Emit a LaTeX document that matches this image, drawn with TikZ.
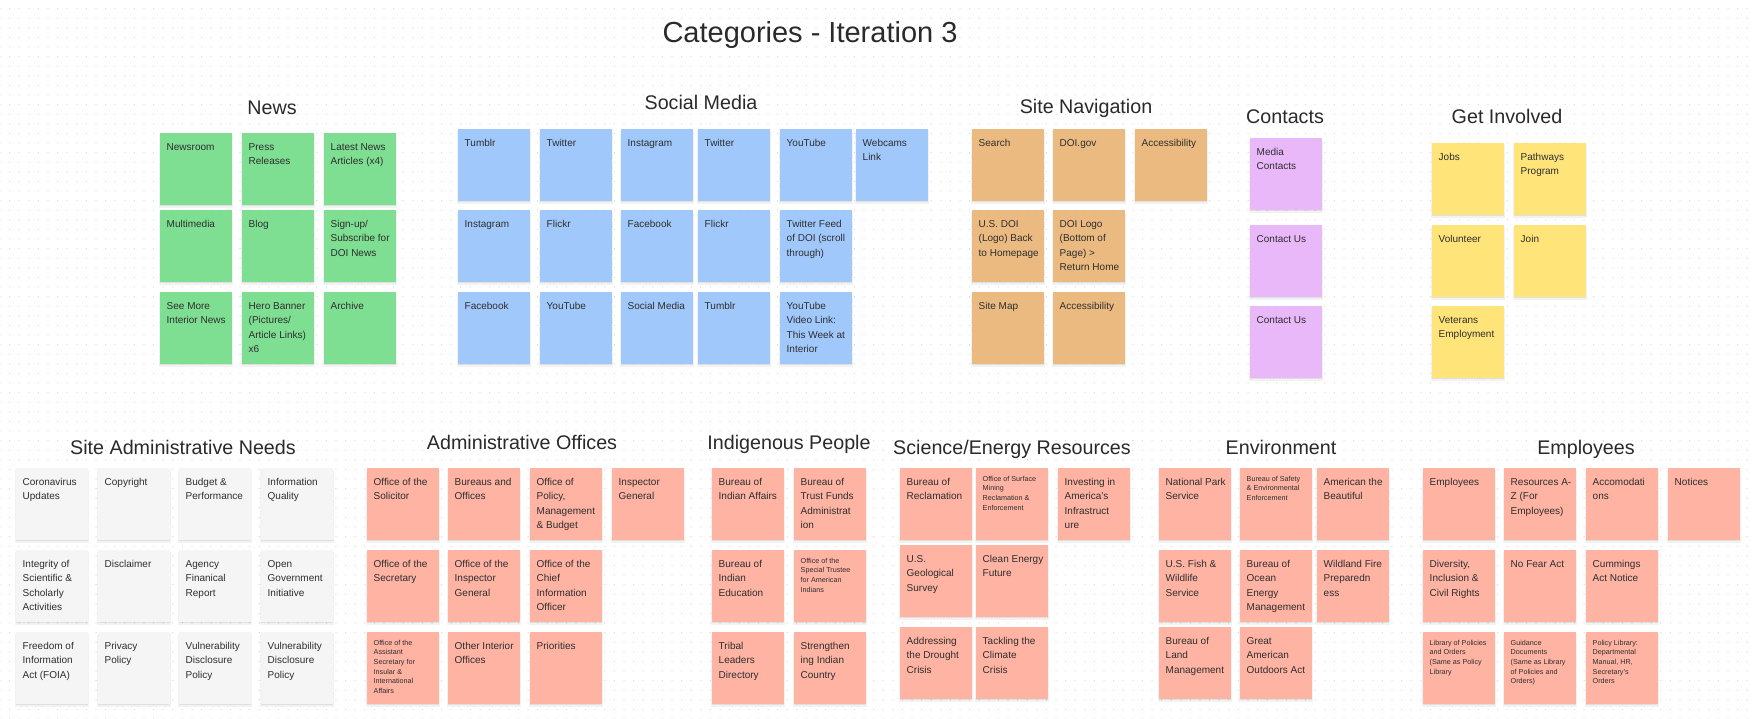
\documentclass[tikz,border=0pt]{standalone}
\usepackage{fontspec}
\setmainfont{Liberation Sans}
\usetikzlibrary{patterns,shadows}
\definecolor{cgreen}{HTML}{7EDE92}
\definecolor{cblue}{HTML}{A1C8FB}
\definecolor{corange}{HTML}{EBBA80}
\definecolor{cpurple}{HTML}{E8B8F8}
\definecolor{cyellow}{HTML}{FFE47A}
\definecolor{csalmon}{HTML}{FFB3A3}
\definecolor{cgray}{HTML}{F5F5F5}
\definecolor{txtc}{HTML}{2E2E2E}
\definecolor{ttlc}{HTML}{2A2A2A}
\definecolor{dotc}{HTML}{CFCFCF}
\pgfdeclarepatternformonly{gdots}{\pgfqpoint{-1pt}{-1pt}}{\pgfqpoint{1pt}{1pt}}{\pgfqpoint{9.6pt}{9.6pt}}{\pgfpathcircle{\pgfpointorigin}{0.6pt}\pgfusepath{fill}}
\tikzset{
  notebox/.style={rectangle, minimum width=72pt, minimum height=72pt, inner sep=0pt, anchor=north west, draw=none,
    drop shadow={shadow xshift=0pt, shadow yshift=-2.2pt, opacity=0.05, fill=black, shadow scale=1.02},
    drop shadow={shadow xshift=0pt, shadow yshift=-1.2pt, opacity=0.07, fill=black}},
  ntxt/.style={anchor=north west, inner sep=0pt, align=left, text=txtc, font=\fontsize{10}{14.4}\selectfont},
  stxt/.style={anchor=north west, inner sep=0pt, align=left, text=txtc, font=\fontsize{7.2}{9.6}\selectfont},
  ttl/.style={anchor=base, inner sep=0pt, text=ttlc, font=\fontsize{19.7}{24}\selectfont},
  mttl/.style={anchor=base, inner sep=0pt, text=ttlc, font=\fontsize{29}{34}\selectfont},
}
\newcommand\sticky[5]{%
  \node[notebox,fill=#4] (#1) at (#2,#3) {};
  \node[ntxt] (#1t) at ([shift={(6.5,9.3)}]#1.north west) {\rule{0pt}{8pt}#5};}
\newcommand\stickys[5]{%
  \node[notebox,fill=#4] (#1) at (#2,#3) {};
  \node[stxt] (#1t) at ([shift={(6.5,7.5)}]#1.north west) {\rule{0pt}{5.5pt}#5};}
\begin{document}
\begin{tikzpicture}[x=1pt,y=-1pt]
\useasboundingbox (0,0) rectangle (1755,719);
\fill[white] (0,0) rectangle (1755,719);
\fill[pattern=gdots, pattern color=dotc] (0,0) rectangle (1755,719);

% Titles
\node[mttl] (tmain) at (810,43) {Categories - Iteration 3};
\node[ttl] (tnews) at (272,115) {News};
\node[ttl] (tsocial) at (701,110) {Social Media};
\node[ttl] (tnav) at (1086,114) {Site Navigation};
\node[ttl] (tcont) at (1285,124) {Contacts};
\node[ttl] (tinv) at (1507,124) {Get Involved};
\node[ttl] (tadm) at (183,454) {Site Administrative Needs};
\node[ttl] (toff) at (522,449) {Administrative Offices};
\node[ttl] (tind) at (789,449) {Indigenous People};
\node[ttl] (tsci) at (1012,454) {Science/Energy Resources};
\node[ttl] (tenv) at (1281,454) {Environment};
\node[ttl] (temp) at (1586,454) {Employees};

% News
\sticky{n1}{160}{133}{cgreen}{Newsroom}
\sticky{n2}{242}{133}{cgreen}{Press\\Releases}
\sticky{n3}{324}{133}{cgreen}{Latest News\\Articles (x4)}
\sticky{n4}{160}{210}{cgreen}{Multimedia}
\sticky{n5}{242}{210}{cgreen}{Blog}
\sticky{n6}{324}{210}{cgreen}{Sign-up/\\Subscribe for\\DOI News}
\sticky{n7}{160}{292}{cgreen}{See More\\Interior News}
\sticky{n8}{242}{292}{cgreen}{Hero Banner\\(Pictures/\\Article Links)\\x6}
\sticky{n9}{324}{292}{cgreen}{Archive}

% Social Media
\sticky{s1}{458}{129}{cblue}{Tumblr}
\sticky{s2}{540}{129}{cblue}{Twitter}
\sticky{s3}{621}{129}{cblue}{Instagram}
\sticky{s4}{698}{129}{cblue}{Twitter}
\sticky{s5}{780}{129}{cblue}{YouTube}
\sticky{s6}{856}{129}{cblue}{Webcams\\Link}
\sticky{s7}{458}{210}{cblue}{Instagram}
\sticky{s8}{540}{210}{cblue}{Flickr}
\sticky{s9}{621}{210}{cblue}{Facebook}
\sticky{s10}{698}{210}{cblue}{Flickr}
\sticky{s11}{780}{210}{cblue}{Twitter Feed\\of DOI (scroll\\through)}
\sticky{s12}{458}{292}{cblue}{Facebook}
\sticky{s13}{540}{292}{cblue}{YouTube}
\sticky{s14}{621}{292}{cblue}{Social Media}
\sticky{s15}{698}{292}{cblue}{Tumblr}
\sticky{s16}{780}{292}{cblue}{YouTube\\Video Link:\\This Week at\\Interior}

% Site Navigation
\sticky{v1}{972}{129}{corange}{Search}
\sticky{v2}{1053}{129}{corange}{DOI.gov}
\sticky{v3}{1135}{129}{corange}{Accessibility}
\sticky{v4}{972}{210}{corange}{U.S. DOI\\(Logo) Back\\to Homepage}
\sticky{v5}{1053}{210}{corange}{DOI Logo\\(Bottom of\\Page) >\\Return Home}
\sticky{v6}{972}{292}{corange}{Site Map}
\sticky{v7}{1053}{292}{corange}{Accessibility}

% Contacts
\sticky{c1}{1250}{138}{cpurple}{Media\\Contacts}
\sticky{c2}{1250}{225}{cpurple}{Contact Us}
\sticky{c3}{1250}{306}{cpurple}{Contact Us}

% Get Involved
\sticky{g1}{1432}{143}{cyellow}{Jobs}
\sticky{g2}{1514}{143}{cyellow}{Pathways\\Program}
\sticky{g3}{1432}{225}{cyellow}{Volunteer}
\sticky{g4}{1514}{225}{cyellow}{Join}
\sticky{g5}{1432}{306}{cyellow}{Veterans\\Employment}

% Site Administrative Needs
\sticky{a1}{16}{468}{cgray}{Coronavirus\\Updates}
\sticky{a2}{98}{468}{cgray}{Copyright}
\sticky{a3}{179}{468}{cgray}{Budget \&\\Performance}
\sticky{a4}{261}{468}{cgray}{Information\\Quality}
\sticky{a5}{16}{550}{cgray}{Integrity of\\Scientific \&\\Scholarly\\Activities}
\sticky{a6}{98}{550}{cgray}{Disclaimer}
\sticky{a7}{179}{550}{cgray}{Agency\\Finanical\\Report}
\sticky{a8}{261}{550}{cgray}{Open\\Government\\Initiative}
\sticky{a9}{16}{632}{cgray}{Freedom of\\Information\\Act (FOIA)}
\sticky{a10}{98}{632}{cgray}{Privacy\\Policy}
\sticky{a11}{179}{632}{cgray}{Vulnerability\\Disclosure\\Policy}
\sticky{a12}{261}{632}{cgray}{Vulnerability\\Disclosure\\Policy}

% Administrative Offices
\sticky{o1}{367}{468}{csalmon}{Office of the\\Solicitor}
\sticky{o2}{448}{468}{csalmon}{Bureaus and\\Offices}
\sticky{o3}{530}{468}{csalmon}{Office of\\Policy,\\Management\\\& Budget}
\sticky{o4}{612}{468}{csalmon}{Inspector\\General}
\sticky{o5}{367}{550}{csalmon}{Office of the\\Secretary}
\sticky{o6}{448}{550}{csalmon}{Office of the\\Inspector\\General}
\sticky{o7}{530}{550}{csalmon}{Office of the\\Chief\\Information\\Officer}
\stickys{o8}{367}{632}{csalmon}{Office of the\\Assistant\\Secretary for\\Insular \&\\International\\Affairs}
\sticky{o9}{448}{632}{csalmon}{Other Interior\\Offices}
\sticky{o10}{530}{632}{csalmon}{Priorities}

% Indigenous People
\sticky{i1}{712}{468}{csalmon}{Bureau of\\Indian Affairs}
\sticky{i2}{794}{468}{csalmon}{Bureau of\\Trust Funds\\Administrat\\ion}
\sticky{i3}{712}{550}{csalmon}{Bureau of\\Indian\\Education}
\stickys{i4}{794}{550}{csalmon}{Office of the\\Special Trustee\\for American\\Indians}
\sticky{i5}{712}{632}{csalmon}{Tribal\\Leaders\\Directory}
\sticky{i6}{794}{632}{csalmon}{Strengthen\\ing Indian\\Country}

% Science/Energy Resources
\sticky{e1}{900}{468}{csalmon}{Bureau of\\Reclamation}
\stickys{e2}{976}{468}{csalmon}{Office of Surface\\Mining\\Reclamation \&\\Enforcement}
\sticky{e3}{1058}{468}{csalmon}{Investing in\\America's\\Infrastruct\\ure}
\sticky{e4}{900}{545}{csalmon}{U.S.\\Geological\\Survey}
\sticky{e5}{976}{545}{csalmon}{Clean Energy\\Future}
\sticky{e6}{900}{627}{csalmon}{Addressing\\the Drought\\Crisis}
\sticky{e7}{976}{627}{csalmon}{Tackling the\\Climate\\Crisis}

% Environment
\sticky{r1}{1159}{468}{csalmon}{National Park\\Service}
\stickys{r2}{1240}{468}{csalmon}{Bureau of Safety\\\& Environmental\\Enforcement}
\sticky{r3}{1317}{468}{csalmon}{American the\\Beautiful}
\sticky{r4}{1159}{550}{csalmon}{U.S. Fish \&\\Wildlife\\Service}
\sticky{r5}{1240}{550}{csalmon}{Bureau of\\Ocean\\Energy\\Management}
\sticky{r6}{1317}{550}{csalmon}{Wildland Fire\\Preparedn\\ess}
\sticky{r7}{1159}{627}{csalmon}{Bureau of\\Land\\Management}
\sticky{r8}{1240}{627}{csalmon}{Great\\American\\Outdoors Act}

% Employees
\sticky{m1}{1423}{468}{csalmon}{Employees}
\sticky{m2}{1504}{468}{csalmon}{Resources A-\\Z (For\\Employees)}
\sticky{m3}{1586}{468}{csalmon}{Accomodati\\ons}
\sticky{m4}{1668}{468}{csalmon}{Notices}
\sticky{m5}{1423}{550}{csalmon}{Diversity,\\Inclusion \&\\Civil Rights}
\sticky{m6}{1504}{550}{csalmon}{No Fear Act}
\sticky{m7}{1586}{550}{csalmon}{Cummings\\Act Notice}
\stickys{m8}{1423}{632}{csalmon}{Library of Policies\\and Orders\\(Same as Policy\\Library}
\stickys{m9}{1504}{632}{csalmon}{Guidance\\Documents\\(Same as Library\\of Policies and\\Orders)}
\stickys{m10}{1586}{632}{csalmon}{Policy Library:\\Departmental\\Manual, HR,\\Secretary's\\Orders}
\end{tikzpicture}
\end{document}
